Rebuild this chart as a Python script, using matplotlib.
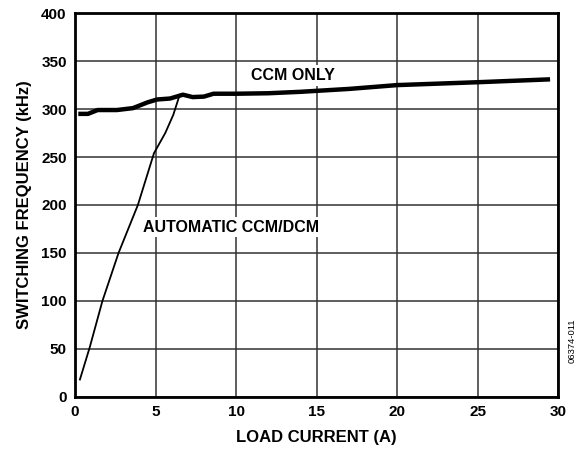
import matplotlib
matplotlib.use("Agg")
import matplotlib.pyplot as plt

plt.rcParams['font.family'] = ['Liberation Sans', 'DejaVu Sans']
plt.rcParams['font.weight'] = 'bold'

# CCM only (thick line)
ccm_x = [0.2, 0.8, 1.4, 2.6, 3.6, 4.5, 5.1, 5.9, 6.7, 7.3, 8.0, 8.6, 10, 12, 14, 17, 20, 25, 29.5]
ccm_y = [295, 295, 299, 299, 301, 307, 310, 311, 315, 312.5, 313, 316, 316, 316.5, 318, 321, 325, 328, 331]

# automatic CCM/DCM (thin line)
auto_x = [0.3, 0.9, 1.7, 2.7, 3.9, 4.9, 5.6, 6.1, 6.5]
auto_y = [18, 51, 100, 150, 200, 254, 275, 294, 315]

fig = plt.figure(figsize=(5.82, 4.54), dpi=100)
ax = fig.add_axes([0.129, 0.126, 0.83, 0.845])

ax.plot(ccm_x, ccm_y, color='black', lw=3.2, solid_capstyle='butt', zorder=3)
ax.plot(auto_x, auto_y, color='black', lw=1.3, zorder=3)

ax.set_xlim(0, 30)
ax.set_ylim(0, 400)
ax.set_xticks(range(0, 31, 5))
ax.set_yticks(range(0, 401, 50))
ax.grid(True, color='#333333', lw=1.1)
ax.set_axisbelow(True)
ax.tick_params(length=0, labelsize=11, pad=6)
for s in ax.spines.values():
    s.set_linewidth(2)

ax.set_xlabel('LOAD CURRENT (A)', fontsize=12, fontweight='bold', labelpad=8)
ax.set_ylabel('SWITCHING FREQUENCY (kHz)', fontsize=12, fontweight='bold', labelpad=7)

ax.text(10.9, 335, 'CCM ONLY', fontsize=11.5, fontweight='bold', va='center',
        bbox=dict(facecolor='white', edgecolor='none', pad=2), zorder=4)
ax.text(4.2, 177, 'AUTOMATIC CCM/DCM', fontsize=11.5, fontweight='bold', va='center',
        bbox=dict(facecolor='white', edgecolor='none', pad=2), zorder=4)

fig.text(0.983, 0.25, '06374-011', rotation=90, fontsize=6.8, fontweight='normal',
         ha='center', va='center')

fig.savefig('out.png', dpi=100)
